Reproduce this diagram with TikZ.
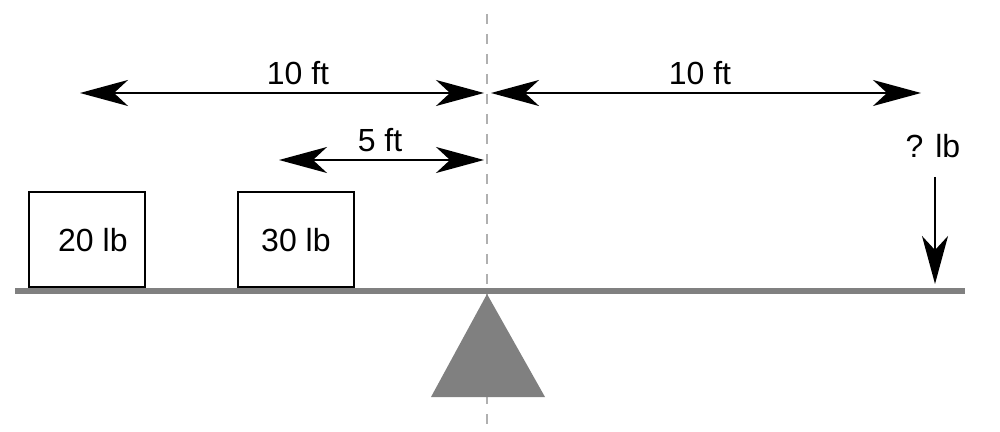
\documentclass[tikz,border=0pt]{standalone}
\usepackage{fontspec}
\setmainfont{Liberation Sans}
\usetikzlibrary{arrows.meta}
\definecolor{beamgray}{HTML}{808080}
\definecolor{dashgray}{HTML}{B0B0B0}
\begin{document}
\begin{tikzpicture}[x=0.5pt,y=-0.5pt,
  dart/.tip={Stealth[length=24pt,width=13pt,inset=7pt]},
  dim/.style={draw=black,line width=0.9pt,{dart}-{dart}},
  lbl/.style={font=\fontsize{16}{16}\selectfont,inner sep=0pt},
  weight/.style={draw=black,line width=0.9pt,fill=white,minimum width=58pt,minimum height=47.5pt,inner sep=0pt,anchor=south west,font=\fontsize{16}{16}\selectfont}]
\useasboundingbox (0,0) rectangle (1000,432);
% center dashed line
\draw[dashgray,line width=0.9pt,dash pattern=on 5pt off 5pt] (487,14) -- (487,432);
% fulcrum
\coordinate (apex) at (487,294);
\coordinate (bl) at (431,397);
\coordinate (br) at (545,397);
\fill[beamgray] (apex) -- (br) -- (bl) -- cycle;
% beam
\coordinate (beamL) at (15,291);
\coordinate (beamR) at (965,291);
\draw[beamgray,line width=3.2pt] (beamL) -- (beamR);
% weights
\node[weight] (w20) at (28,288) {\hspace*{6pt}20 lb};
\node[weight] (w30) at (237,288) {30 lb};
% dimension arrows
\coordinate (a1) at (80,93);
\coordinate (a2) at (484,93);
\coordinate (a3) at (491,93);
\coordinate (a4) at (921,93);
\coordinate (b1) at (279,160);
\coordinate (b2) at (484,160);
\draw[dim] (a1) -- (a2);
\draw[dim] (a3) -- (a4);
\draw[dim] (b1) -- (b2);
\node[lbl] (l1) at (298,73) {10 ft};
\node[lbl] (l2) at (700,73) {10 ft};
\node[lbl] (l3) at (380,140) {5 ft};
% unknown force
\node[lbl] (q) at (933,146) {? lb};
\coordinate (f1) at (935,177);
\coordinate (f2) at (935,284);
\draw[draw=black,line width=0.9pt,-{dart}] (f1) -- (f2);
\end{tikzpicture}
\end{document}
